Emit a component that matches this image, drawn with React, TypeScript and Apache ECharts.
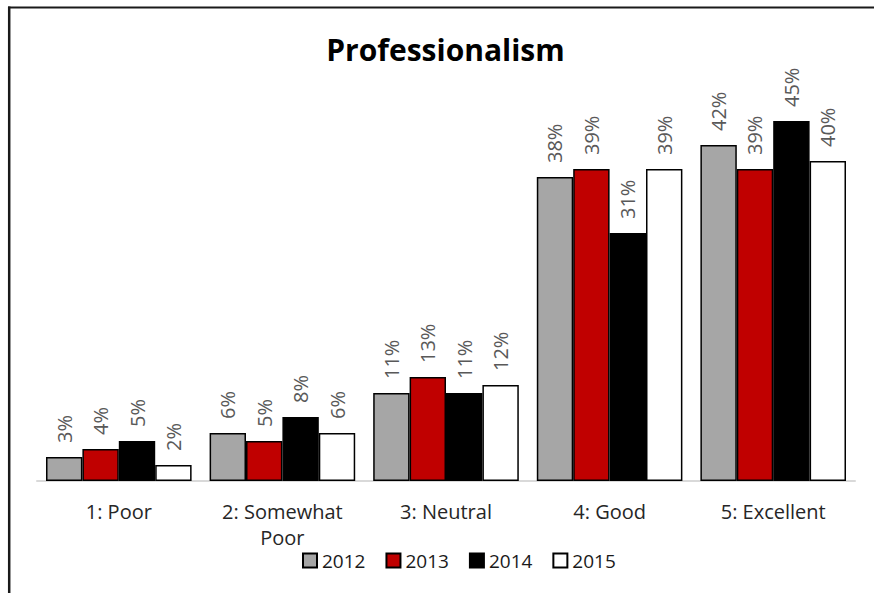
import React, { useEffect, useRef } from "react";
import * as echarts from "echarts";

const categories = ["1: Poor", "2: Somewhat\nPoor", "3: Neutral", "4: Good", "5: Excellent"];
const years = ["2012", "2013", "2014", "2015"];
const values2012 = [3, 6, 11, 38, 42];
const values2013 = [4, 5, 13, 39, 39];
const values2014 = [5, 8, 11, 31, 45];
const values2015 = [2, 6, 12, 39, 40];
const seriesValues = [values2012, values2013, values2014, values2015];
const seriesColors = ["#a6a6a6", "#c00000", "#000000", "#ffffff"];

const FONT = "'Open Sans', 'Noto Sans', sans-serif";

export default function App() {
  const ref = useRef<HTMLDivElement>(null);

  useEffect(() => {
    if (!ref.current) return;
    const chart = echarts.init(ref.current, null, { renderer: "svg" });
    chart.setOption({
      animation: false,
      backgroundColor: "#ffffff",
      textStyle: { fontFamily: FONT },
      graphic: [
        {
          type: "line",
          shape: { x1: 8, y1: 7.5, x2: 874, y2: 7.5 },
          style: { stroke: "#1a1a1a", lineWidth: 2 },
          z: 10,
        },
        {
          type: "line",
          shape: { x1: 9.2, y1: 6.5, x2: 9.2, y2: 593 },
          style: { stroke: "#1a1a1a", lineWidth: 2.5 },
          z: 10,
        },
        {
          type: "text",
          x: 445.5,
          y: 49,
          style: {
            text: "Professionalism",
            fontFamily: FONT,
            fontWeight: "bold",
            fontSize: 30,
            fill: "#000000",
            textAlign: "center",
            textVerticalAlign: "middle",
          },
        },
      ],
      legend: {
        data: years,
        left: 297,
        top: 546,
        itemWidth: 14,
        itemHeight: 14,
        itemGap: 20,
        icon: "rect",
        textStyle: { fontFamily: FONT, fontSize: 19, color: "#1a1a1a" },
      },
      grid: { left: 37, right: 19, top: 81, bottom: 112 },
      xAxis: {
        type: "category",
        data: categories,
        axisLine: { lineStyle: { color: "#d9d9d9", width: 2 } },
        axisTick: { show: false },
        axisLabel: {
          fontFamily: FONT,
          fontSize: 20,
          color: "#262626",
          lineHeight: 26,
          margin: 17,
          interval: 0,
        },
      },
      yAxis: {
        type: "value",
        min: 0,
        max: 50,
        show: false,
        splitLine: { show: false },
      },
      series: years.map((year, i) => ({
        name: year,
        type: "bar",
        data: seriesValues[i],
        barGap: "0%",
        barCategoryGap: "11%",
        itemStyle: {
          color: seriesColors[i],
          borderColor: "#000000",
          borderWidth: 1.5,
        },
        label: {
          show: true,
          position: "top",
          rotate: 90,
          align: "left",
          verticalAlign: "middle",
          distance: 14,
          formatter: "{c}%",
          fontFamily: FONT,
          fontSize: 20,
          color: "#595959",
        },
      })),
    });
    return () => chart.dispose();
  }, []);

  return (
    <div
      ref={ref}
      style={{ position: "fixed", left: 0, top: 0, width: 874, height: 593 }}
    />
  );
}
